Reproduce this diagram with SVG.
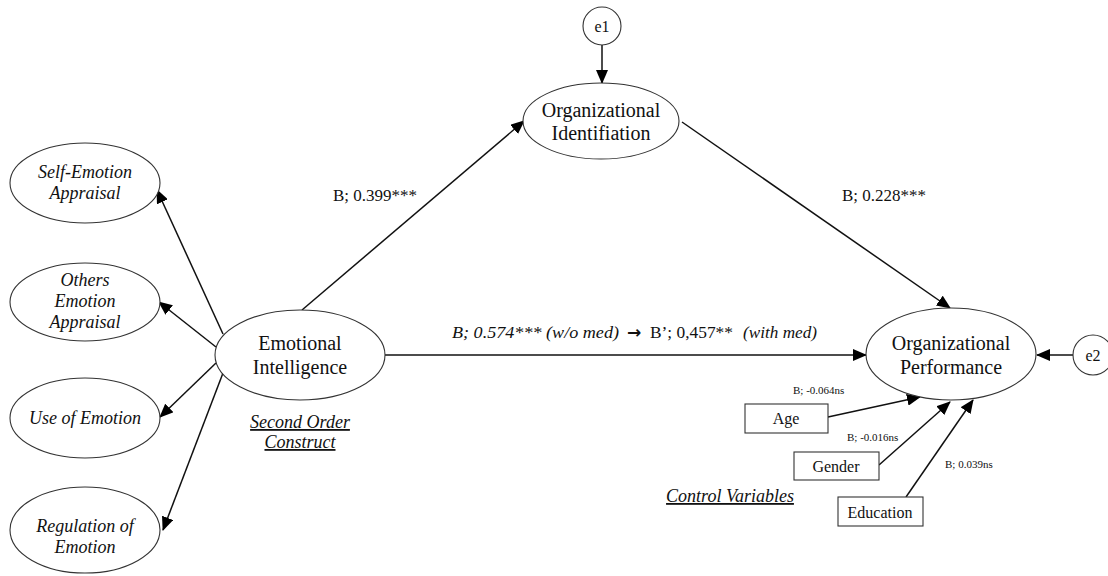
<svg xmlns="http://www.w3.org/2000/svg" width="1108" height="576" viewBox="0 0 1108 576" font-family="'Liberation Serif', 'Times New Roman', Times, 'DejaVu Serif', serif">
<style>
.n{fill:#fff;stroke:#333;stroke-width:1.1}
.t{fill:#111;text-anchor:middle}
.big{font-size:20px}
.it{font-size:18px;font-style:italic}
.box{font-size:16px}
.lab{fill:#111;font-size:17px}
.sm{fill:#111;font-size:11px}
.c line{stroke:#111;stroke-width:1.5;marker-end:url(#ah)}
.u{text-decoration:underline}
</style>
<defs>
<marker id="ah" markerUnits="userSpaceOnUse" markerWidth="14" markerHeight="12" refX="13" refY="6" orient="auto">
<path d="M0,0 L14,6 L0,12 z" fill="#000"/>
</marker>
</defs>
<rect width="1108" height="576" fill="#fff"/>
<g class="c" id="connectors">
<line x1="223" y1="334" x2="157" y2="190"/>
<line x1="216" y1="347" x2="159" y2="302"/>
<line x1="216" y1="363" x2="160" y2="417"/>
<line x1="223" y1="373" x2="163" y2="530"/>
<line x1="302" y1="310" x2="524" y2="121"/>
<line x1="602" y1="45" x2="602" y2="83"/>
<line x1="682" y1="122" x2="950" y2="308"/>
<line x1="385" y1="355" x2="866" y2="355"/>
<line x1="1073" y1="355" x2="1037" y2="355"/>
<line x1="828" y1="417" x2="920" y2="397"/>
<line x1="879" y1="465" x2="950" y2="402"/>
<line x1="906" y1="497" x2="973" y2="400"/>
</g>
<g id="sea"><ellipse class="n" cx="85" cy="183" rx="75" ry="40"/><text class="t it" x="85" y="178">Self-Emotion</text><text class="t it" x="85" y="199">Appraisal</text></g>
<g id="oea"><ellipse class="n" cx="85" cy="302" rx="75" ry="39"/><text class="t it" x="85" y="286">Others</text><text class="t it" x="85" y="307">Emotion</text><text class="t it" x="85" y="328">Appraisal</text></g>
<g id="uoe"><ellipse class="n" cx="85" cy="418" rx="75" ry="40"/><text class="t it" x="85" y="424">Use of Emotion</text></g>
<g id="roe"><ellipse class="n" cx="85" cy="530" rx="75" ry="43"/><text class="t it" x="85" y="532">Regulation of</text><text class="t it" x="85" y="553">Emotion</text></g>
<g id="ei"><ellipse class="n" cx="300" cy="355" rx="85" ry="45"/><text class="t big" x="300" y="350">Emotional</text><text class="t big" x="300" y="374">Intelligence</text></g>
<g id="soc"><text class="t it u" x="300" y="428">Second Order</text><text class="t it u" x="300" y="448">Construct</text></g>
<g id="oi"><ellipse class="n" cx="601" cy="121" rx="78" ry="38"/><text class="t big" x="601" y="117">Organizational</text><text class="t big" x="601" y="140">Identifiation</text></g>
<g id="e1"><circle class="n" cx="602" cy="26" r="19"/><text class="t box" x="602" y="32">e1</text></g>
<g id="op"><ellipse class="n" cx="951" cy="354" rx="85" ry="46"/><text class="t big" x="951" y="350">Organizational</text><text class="t big" x="951" y="374">Performance</text></g>
<g id="e2"><circle class="n" cx="1093" cy="355" r="20"/><text class="t box" x="1093" y="361">e2</text></g>
<g id="age"><rect class="n" x="745" y="404" width="83" height="29"/><text class="t box" x="786" y="424">Age</text></g>
<g id="gender"><rect class="n" x="794" y="452" width="85" height="28"/><text class="t box" x="836" y="472">Gender</text></g>
<g id="education"><rect class="n" x="838" y="497" width="85" height="29"/><text class="t box" x="880" y="518">Education</text></g>
<g id="cv"><text class="t it u" x="730" y="502">Control Variables</text></g>
<g id="labels">
<text class="lab" x="375" y="201" text-anchor="middle">B; 0.399***</text>
<text class="lab" x="842" y="201">B; 0.228***</text>
<text class="lab" x="452" y="338" font-style="italic" textLength="167" lengthAdjust="spacingAndGlyphs">B; 0.574*** (w/o med)</text>
<text class="lab" x="627" y="338" font-family="'DejaVu Sans', sans-serif" font-weight="bold" font-size="15">→</text>
<text class="lab" x="650" y="338" textLength="83" lengthAdjust="spacingAndGlyphs">B’; 0,457**</text>
<text class="lab" x="743" y="338" font-style="italic" textLength="74" lengthAdjust="spacingAndGlyphs">(with med)</text>
<text class="sm" x="793" y="394">B; -0.064ns</text>
<text class="sm" x="847" y="441">B; -0.016ns</text>
<text class="sm" x="945" y="468">B; 0.039ns</text>
</g>
</svg>
